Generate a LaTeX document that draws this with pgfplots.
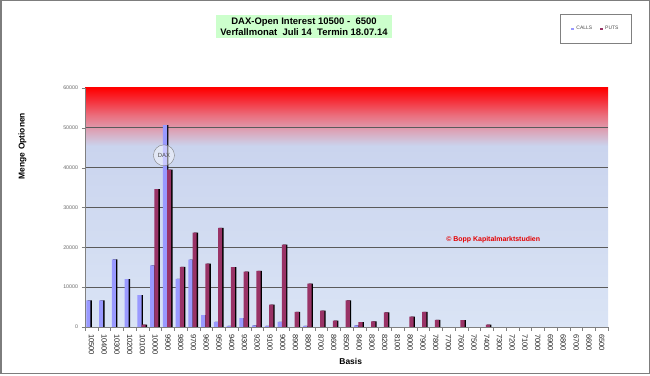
\documentclass[border=0pt]{standalone}
\usepackage{pgfplots}
\pgfplotsset{compat=1.18}
\usepackage{pgfplotstable}
\usepackage{fontspec}
\setmainfont{Liberation Sans}
\definecolor{callc}{RGB}{153,153,255}
\definecolor{putc}{RGB}{153,51,102}
\definecolor{bglow}{RGB}{218,228,245}
\definecolor{bgmid}{RGB}{202,212,238}
\definecolor{bgp1}{RGB}{218,168,188}
\definecolor{bgp2}{RGB}{234,112,127}
\definecolor{bgp3}{RGB}{246,45,55}
\definecolor{titlegreen}{RGB}{204,255,204}
\definecolor{gridc}{RGB}{90,90,90}
\definecolor{framec}{RGB}{125,125,125}
% shading square 0..100bp, axis box mapped to 25..75bp ; value v -> 25+50*v/60000
\pgfdeclareverticalshading{bgshade}{100bp}{color(0bp)=(bglow); color(25bp)=(bglow); color(62.9bp)=(bgmid); color(65.8bp)=(bgp1); color(69.2bp)=(bgp2); color(72.5bp)=(bgp3); color(75bp)=(red); color(100bp)=(red)}

\pgfplotstableread{
x calls puts
0 6700 0
1 6700 0
2 17000 0
3 12000 0
4 8000 600
5 15500 34600
6 50700 39500
7 12100 15100
8 16900 23700
9 3000 15900
10 1300 24900
11 300 15000
12 2200 13900
13 400 14100
14 300 5600
15 1300 20700
16 0 3800
17 300 10900
18 0 4100
19 0 1600
20 0 6700
21 400 1200
22 0 1400
23 0 3700
24 0 0
25 0 2600
26 0 3800
27 0 1800
28 0 0
29 0 1700
30 0 0
31 0 600
32 0 0
33 0 0
34 0 0
35 0 0
36 0 0
37 0 0
38 0 0
39 0 0
40 0 0
}\oidata

\begin{document}
\begin{tikzpicture}
\useasboundingbox (0,0) rectangle (650bp,376bp);
\draw[framec, line width=1.5bp] (0.75bp,2.5bp) rectangle (649.25bp,375.25bp);
\begin{axis}[
  at={(85bp,49bp)}, anchor=south west,
  scale only axis, width=523bp, height=239bp,
  xmin=-0.5, xmax=40.5, ymin=0, ymax=60000,
  axis background/.style={shading=bgshade},
  axis lines=left,
  axis line style={-, draw=gray},
  tick align=outside,
  xtick={0,...,40},
  xticklabels={10500,10400,10300,10200,10100,10000,9900,9800,9700,9600,9500,9400,9300,9200,9100,9000,8900,8800,8700,8600,8500,8400,8300,8200,8100,8000,7900,7800,7700,7600,7500,7400,7300,7200,7100,7000,6900,6800,6700,6600,6500},
  minor xtick={-0.5,0.5,...,40.5},
  major x tick style={draw=none},
  minor x tick style={draw=gray},
  minor tick length=3.5bp,
  ytick={0,10000,...,50000},
  extra y ticks={60000},
  extra y tick style={grid=none},
  y tick style={draw=gray},
  major tick length=3.5bp,
  ymajorgrids,
  major grid style={draw=gridc, line width=0.8bp},
  scaled y ticks=false,
  /pgf/number format/assume math mode=true,
  yticklabel style={/pgf/number format/1000 sep={}, font=\fontsize{5.3}{6}\selectfont, text=black!60},
  x tick label style={rotate=-90, anchor=west, font=\fontsize{7.6}{8}\selectfont, text=black!85},
  legend columns=2,
  legend style={at={(0.977,1.247)}, anchor=center, draw=gray, fill=white,
    inner xsep=11bp, inner ysep=10bp, font=\fontsize{5}{5.5}\selectfont, text=black!70,
    /tikz/every even column/.append style={column sep=6bp}},
  legend image code/.code={\fill[#1] (0bp,-1.4bp) rectangle (3bp,1.4bp);},
]
\addplot[ybar, bar width=4.2bp, bar shift=-1.7bp, fill=black, draw=none, forget plot] table[x=x,y=calls]{\oidata};
\addplot[ybar, bar width=4.2bp, bar shift=-3bp, fill=callc, draw=none] table[x=x,y=calls]{\oidata};
\addplot[ybar, bar width=4.2bp, bar shift=2.5bp, fill=black, draw=none, forget plot] table[x=x,y=puts]{\oidata};
\addplot[ybar, bar width=4.2bp, bar shift=1.2bp, fill=putc, draw=none] table[x=x,y=puts]{\oidata};
\legend{CALLS,PUTS}
\draw[gray, fill=white, fill opacity=0.45] (axis cs:5.69,43100) circle[radius=10.5bp];
\node[font=\fontsize{6}{7}\selectfont, text=black!70] at (axis cs:5.69,43100) {DAX};
\node[font=\bfseries\fontsize{7}{8}\selectfont, text=red!90!black] at (axis cs:31.5,21900) {© Bopp Kapitalmarktstudien};
\end{axis}
\node[fill=titlegreen, minimum width=176bp, minimum height=23bp, inner sep=1bp, align=center,
  font=\bfseries\fontsize{9.5}{10.7}\selectfont] at (304bp,349.5bp) {DAX-Open Interest 10500 -\ \ 6500\\Verfallmonat\ \ Juli 14\ \ Termin 18.07.14};
\node[rotate=90, font=\bfseries\fontsize{8.5}{10}\selectfont] at (22.5bp,230bp) {Menge Optionen};
\node[font=\bfseries\fontsize{8.5}{10}\selectfont] at (350.7bp,14.3bp) {Basis};
\end{tikzpicture}
\end{document}
